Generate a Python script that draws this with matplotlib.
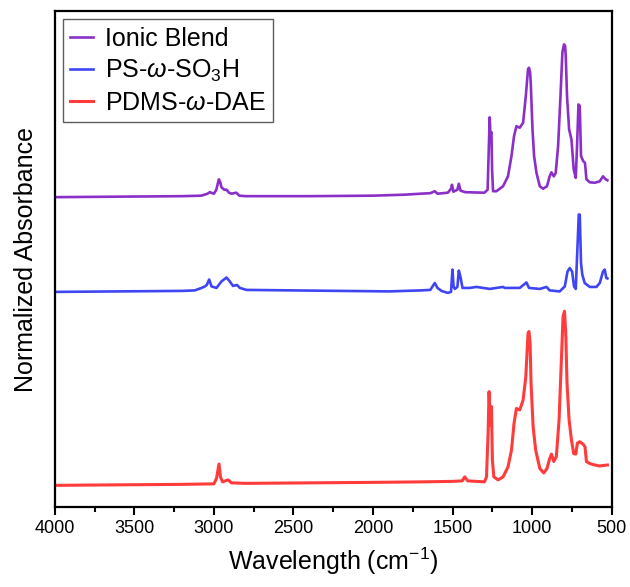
import matplotlib
matplotlib.use('Agg')
import matplotlib.pyplot as plt
from matplotlib.ticker import MultipleLocator

plt.rcParams['font.family'] = ['Liberation Sans', 'DejaVu Sans']
plt.rcParams['mathtext.fontset'] = 'custom'
plt.rcParams['mathtext.rm'] = 'Liberation Sans'
plt.rcParams['mathtext.it'] = 'Liberation Sans:italic'

# FTIR spectra, values (wavenumber in cm-1, offset normalized absorbance)
blend_wn = [4000, 3600, 3200, 3080, 3040, 3026, 3000, 2985, 2969, 2960, 2953, 2935, 2921,
            2905, 2890, 2860, 2840, 2800, 2400, 2000, 1800, 1700, 1640, 1612, 1595, 1530,
            1510, 1504, 1495, 1470, 1461, 1450, 1420, 1300, 1280, 1267, 1262, 1256, 1252,
            1246, 1225, 1183, 1152, 1130, 1114, 1099, 1078, 1057, 1040, 1026, 1020, 1013,
            1009, 998, 988, 973, 952, 932, 907, 890, 879, 864, 852, 837, 822, 810, 800,
            793, 789, 781, 768, 753, 739, 726, 718, 709, 701, 693, 680, 668, 659, 638,
            607, 575, 555, 538, 527]
blend_abs = [0.625, 0.626, 0.627, 0.628, 0.632, 0.635, 0.632, 0.640, 0.661, 0.655, 0.645,
             0.640, 0.640, 0.634, 0.632, 0.634, 0.628, 0.627, 0.627, 0.628, 0.630, 0.632,
             0.633, 0.637, 0.632, 0.634, 0.642, 0.650, 0.636, 0.640, 0.652, 0.638, 0.635,
             0.634, 0.640, 0.786, 0.750, 0.756, 0.681, 0.637, 0.637, 0.647, 0.667, 0.708,
             0.748, 0.768, 0.765, 0.775, 0.829, 0.883, 0.886, 0.877, 0.856, 0.762, 0.708,
             0.674, 0.647, 0.642, 0.647, 0.667, 0.675, 0.667, 0.674, 0.728, 0.829, 0.917,
             0.933, 0.930, 0.910, 0.829, 0.762, 0.741, 0.681, 0.664, 0.728, 0.812, 0.809,
             0.708, 0.698, 0.694, 0.661, 0.655, 0.654, 0.657, 0.667, 0.661, 0.659]

ps_wn = [4000, 3600, 3200, 3120, 3078, 3057, 3045, 3030, 3015, 2984, 2953, 2921, 2900,
         2880, 2855, 2837, 2795, 2500, 2200, 1900, 1700, 1640, 1612, 1595, 1570, 1530,
         1510, 1501, 1494, 1486, 1470, 1461, 1451, 1438, 1392, 1350, 1267, 1183, 1172,
         1078, 1036, 1020, 952, 910, 890, 827, 795, 778, 764, 749, 737, 726, 716, 707,
         701, 693, 685, 670, 638, 596, 575, 555, 544, 534, 527]
ps_abs = [0.434, 0.435, 0.436, 0.437, 0.442, 0.445, 0.448, 0.459, 0.445, 0.442, 0.455,
          0.463, 0.455, 0.446, 0.448, 0.442, 0.438, 0.437, 0.436, 0.435, 0.437, 0.438,
          0.452, 0.442, 0.436, 0.432, 0.434, 0.479, 0.445, 0.440, 0.444, 0.477, 0.465,
          0.442, 0.442, 0.444, 0.440, 0.444, 0.442, 0.442, 0.453, 0.442, 0.440, 0.444,
          0.437, 0.435, 0.445, 0.475, 0.482, 0.475, 0.445, 0.440, 0.519, 0.590, 0.590,
          0.492, 0.469, 0.452, 0.444, 0.444, 0.452, 0.475, 0.479, 0.462, 0.461]

pdms_wn = [4000, 3600, 3200, 3000, 2984, 2968, 2959, 2946, 2911, 2890, 2800, 2400, 2000,
           1700, 1500, 1440, 1424, 1405, 1300, 1287, 1277, 1271, 1262, 1256, 1250, 1241,
           1214, 1183, 1152, 1130, 1114, 1099, 1078, 1057, 1040, 1026, 1020, 1013, 1007,
           994, 978, 952, 927, 907, 890, 879, 864, 848, 831, 818, 806, 797, 789, 781, 768,
           753, 739, 726, 716, 701, 680, 668, 659, 638, 607, 575, 555, 527]
pdms_abs = [0.044, 0.045, 0.046, 0.047, 0.058, 0.087, 0.061, 0.051, 0.055, 0.049, 0.048,
            0.049, 0.050, 0.051, 0.052, 0.053, 0.061, 0.053, 0.051, 0.061, 0.149, 0.233,
            0.165, 0.203, 0.095, 0.061, 0.055, 0.061, 0.081, 0.115, 0.169, 0.199, 0.196,
            0.216, 0.263, 0.351, 0.354, 0.331, 0.250, 0.162, 0.115, 0.078, 0.069, 0.078,
            0.098, 0.107, 0.092, 0.102, 0.176, 0.283, 0.384, 0.395, 0.351, 0.250, 0.176,
            0.135, 0.108, 0.107, 0.129, 0.132, 0.127, 0.122, 0.092, 0.088, 0.085, 0.083,
            0.084, 0.085]

fig = plt.figure(figsize=(6.3, 5.87), dpi=100)
ax = fig.add_axes([0.087, 0.136, 0.884, 0.845])

ax.plot(blend_wn, blend_abs, color='#8B2FC9', lw=1.9, label='Ionic Blend')
ax.plot(ps_wn, ps_abs, color='#3F45F2', lw=1.9, label='PS-$\\omega$-SO$_3$H')
ax.plot(pdms_wn, pdms_abs, color='#FF3B3B', lw=2.2, label='PDMS-$\\omega$-DAE')

ax.set_xlim(4000, 500)
ax.set_ylim(0, 1)
ax.xaxis.set_major_locator(MultipleLocator(500))
ax.xaxis.set_minor_locator(MultipleLocator(250))
ax.tick_params(axis='x', which='major', direction='out', length=6, width=1.5, labelsize=13)
ax.tick_params(axis='x', which='minor', direction='out', length=3.5, width=1.5)
ax.set_yticks([])
for s in ax.spines.values():
    s.set_linewidth(1.6)

ax.set_xlabel('Wavelength (cm$^{-1}$)', fontsize=18, labelpad=6)
ax.set_ylabel('Normalized Absorbance', fontsize=18, labelpad=12)

leg = ax.legend(loc='upper left', fontsize=18, frameon=True, fancybox=False,
                handlelength=0.9, handletextpad=0.5, labelspacing=0.28, borderpad=0.3,
                borderaxespad=0, bbox_to_anchor=(0.014, 0.984))
leg.get_frame().set_edgecolor('#333333')
leg.get_frame().set_linewidth(1.0)

fig.savefig('out.png', dpi=100)
